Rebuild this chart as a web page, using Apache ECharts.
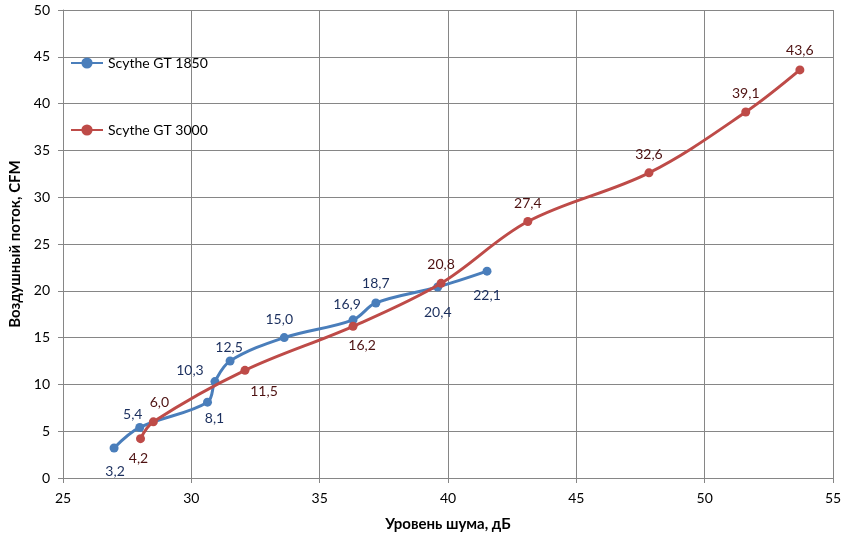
<!DOCTYPE html>
<html><head><meta charset="utf-8">
<script src="https://cdn.jsdelivr.net/npm/echarts@6/dist/echarts.min.js"></script>
<style>html,body{margin:0;padding:0;background:#fff}#c{width:853px;height:536px}</style>
</head><body><div id="c"></div>
<script>
const seriesNames = ['Scythe GT 1850', 'Scythe GT 3000'];
const gt1850Noise = [26.99, 27.99, 30.63, 30.92, 31.51, 33.62, 36.30, 37.19, 39.60, 41.52];
const gt1850Flow  = [3.2, 5.4, 8.1, 10.3, 12.5, 15.0, 16.9, 18.7, 20.4, 22.1];
const gt3000Noise = [28.02, 28.52, 32.09, 36.30, 39.73, 43.11, 47.83, 51.60, 53.71];
const gt3000Flow  = [4.2, 6.0, 11.5, 16.2, 20.8, 27.4, 32.6, 39.1, 43.6];
const xTitle = 'Уровень шума, дБ';
const yTitle = 'Воздушный поток, CFM';

// label placement (style only): pixel offset of each label centre from its point
const labelOffset1850 = [[1, 23], [-7, -13], [7, 16], [-25, -11], [-1, -14], [-5, -18], [-6, -15], [0, -19], [0, 25], [0, 24]];
const labelOffset3000 = [[-2, 20], [6, -19], [19, 21], [9, 19], [0, -19], [0, -18], [0, -18], [0, -19], [0, -19]];

const FONT = 'Lato, "Open Sans", sans-serif';
const fmt = v => v.toFixed(1).replace('.', ',');

function build(xs, ys, offsets) {
  return xs.map((x, i) => ({
    value: [x, ys[i]],
    label: { position: 'inside', offset: offsets[i] }
  }));
}

const chart = echarts.init(document.getElementById('c'));
chart.setOption({
  animation: false,
  textStyle: { fontFamily: FONT },
  grid: { left: 63, right: 20, top: 10, bottom: 58, containLabel: false, outerBoundsMode: 'none' },
  legend: {
    orient: 'vertical', left: 65, top: 51, itemGap: 53,
    itemWidth: 32, itemHeight: 14,
    textStyle: { fontFamily: FONT, fontSize: 14, color: '#000' },
    data: seriesNames
  },
  xAxis: {
    type: 'value', min: 25, max: 55, interval: 5,
    name: xTitle, nameLocation: 'middle', nameGap: 39,
    nameTextStyle: { fontFamily: FONT, fontWeight: 'bold', fontSize: 15, color: '#000' },
    axisLine: { onZero: false, lineStyle: { color: '#868686', width: 1 } },
    axisTick: { show: true, length: 5, lineStyle: { color: '#868686' } },
    axisLabel: { color: '#000', fontSize: 14, margin: 13 },
    splitLine: { show: true, lineStyle: { color: '#868686', width: 1 } }
  },
  yAxis: {
    type: 'value', min: 0, max: 50, interval: 5,
    name: yTitle, nameLocation: 'middle', nameGap: 36, nameRotate: 90,
    nameTextStyle: { fontFamily: FONT, fontWeight: 'bold', fontSize: 15, color: '#000' },
    axisLine: { show: true, onZero: false, lineStyle: { color: '#868686', width: 1 } },
    axisTick: { show: true, length: 5, lineStyle: { color: '#868686' } },
    axisLabel: { color: '#000', fontSize: 14, margin: 13 },
    splitLine: { show: true, lineStyle: { color: '#868686', width: 1 } }
  },
  series: [
    {
      name: seriesNames[0], type: 'line', smooth: 0.35,
      symbol: 'circle', symbolSize: 9,
      lineStyle: { color: '#4A7EBB', width: 3 },
      itemStyle: { color: '#4A7EBB' },
      label: { show: true, color: '#1B2F5E', fontSize: 14, formatter: p => fmt(p.value[1]) },
      data: build(gt1850Noise, gt1850Flow, labelOffset1850),
      z: 3
    },
    {
      name: seriesNames[1], type: 'line', smooth: 0.35,
      symbol: 'circle', symbolSize: 9,
      lineStyle: { color: '#BE4B48', width: 3 },
      itemStyle: { color: '#BE4B48' },
      label: { show: true, color: '#4D1111', fontSize: 14, formatter: p => fmt(p.value[1]) },
      data: build(gt3000Noise, gt3000Flow, labelOffset3000),
      z: 4
    }
  ]
});
</script></body></html>
